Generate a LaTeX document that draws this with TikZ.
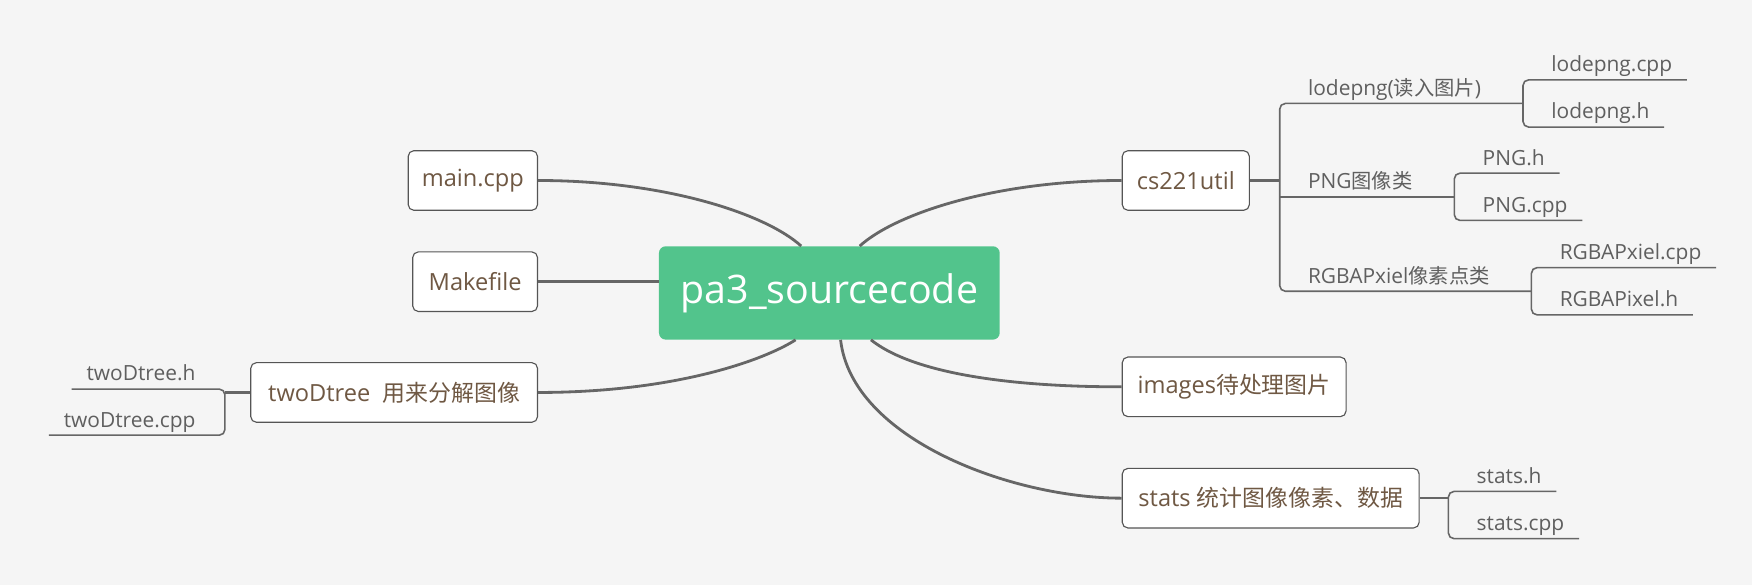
\documentclass[tikz,border=0pt]{standalone}
\usepackage{fontspec}
\setmainfont{Open Sans}
\newfontfamily\cjk[Scale=0.97]{Noto Sans CJK SC}
\usepackage{tikz}
\usetikzlibrary{calc}
\definecolor{bgc}{HTML}{F5F5F5}
\definecolor{rootc}{HTML}{52C48C}
\definecolor{topicc}{HTML}{6F5843}
\definecolor{boxc}{HTML}{555555}
\definecolor{linec}{HTML}{666666}
\definecolor{leafc}{HTML}{5F5F5F}

\begin{document}
\begin{tikzpicture}[x=1pt,y=-1pt,
    topic/.style={draw=boxc, fill=white, rounded corners=5pt, line width=1pt,
      text=topicc, font=\fontsize{21}{25}\selectfont, minimum height=53pt, inner sep=0pt},
    leaf/.style={anchor=south west, text=leafc, font=\fontsize{18.6}{22}\selectfont,
      inner xsep=13pt, inner ysep=0pt, text depth=7pt},
    branch/.style={line width=2.5pt, linec},
    twig/.style={line width=1.4pt, linec, rounded corners=5pt}
  ]
        \pgfmathsetmacro{\dy}{21}
        \pgfmathsetmacro{\dx}{12}
        \fill[bgc] (0,0) rectangle (1558,520.2);
        \useasboundingbox (0,0) rectangle (1558,520.2);
        \node (root) at (737.5,260.5) [fill=rootc, rounded corners=6pt, minimum width=303pt,
          minimum height=83pt, text=white, font=\fontsize{35}{42}\selectfont] {pa3\_sourcecode};
        \node (main) at (420.5,160.5) [topic, minimum width=115pt] {main.cpp};
        \node (make) at (422.5,250.5) [topic, minimum width=111pt] {Makefile};
        \node (twod) at (350.5,349) [topic, minimum width=255pt] {twoDtree\ \ {\cjk 用来分解图像}};
        \node (util) at (1054.5,160.5) [topic, minimum width=113pt] {cs221util};
        \node (imgs) at (1097.5,344) [topic, minimum width=199pt] {images{\cjk 待处理图片}};
        \node (stat) at (1130,443) [topic, minimum width=264pt] {stats {\cjk 统计图像像素、数据}};
        \coordinate (rMain) at ($ (root.north) + (-25,0) $);
        \coordinate (rUtil) at ($ (root.north) + (27,0) $);
        \coordinate (rTwod) at ($ (root.south) + (-30,0) $);
        \coordinate (rStat) at ($ (root.south) + (10,0) $);
        \coordinate (rImgs) at ($ (root.south) + (37,0) $);
        \draw[branch] (main.east) .. controls +(112,0) and +(-32,-29) .. (rMain);
        \draw[branch] (util.west) .. controls +(-112,0) and +(32,-29) .. (rUtil);
        \draw[branch] (make.east) -- (make.east -| root.west);
        \draw[branch] (twod.east) .. controls +(122,0) and +(-28,18) .. (rTwod);
        \draw[branch] (imgs.west) .. controls +(-108,0) and +(35,28) .. (rImgs);
        \draw[branch] (stat.west) .. controls +(-98,0) and +(10,88) .. (rStat);
        \coordinate (utilB) at (1138,175);
        \node (lode) at (1150,92) [leaf] {lodepng({\cjk 读入图片})};
        \node (pngc) at (1150,175) [leaf] {PNG{\cjk 图像类}};
        \node (rgba) at (1150,259) [leaf] {RGBAPxiel{\cjk 像素点类}};
        \coordinate (lodeJ) at ($ (lode.south east) + (24,0) $);
        \coordinate (pngcJ) at ($ (pngc.south east) + (24,0) $);
        \coordinate (rgbaJ) at ($ (rgba.south east) + (24,0) $);
        \draw[line width=2pt, linec] (util.east) -- (util.east -| utilB);
        \draw[twig] (lodeJ) -| (utilB) |- (rgbaJ);
        \draw[twig] (utilB) -- (pngcJ);
        \node (lodecpp) at ($ (lodeJ) + (\dx,-\dy) $) [leaf] {lodepng.cpp};
        \node (lodeh) at ($ (lodeJ) + (\dx,\dy) $) [leaf] {lodepng.h};
        \node (pngh) at ($ (pngcJ) + (\dx,-\dy) $) [leaf] {PNG.h};
        \node (pngcpp) at ($ (pngcJ) + (\dx,\dy) $) [leaf] {PNG.cpp};
        \node (rgbacpp) at ($ (rgbaJ) + (\dx,-\dy) $) [leaf] {RGBAPxiel.cpp};
        \node (rgbah) at ($ (rgbaJ) + (\dx,\dy) $) [leaf] {RGBAPixel.h};
        \draw[twig] (lodecpp.south east) -| (lodeJ) |- (lodeh.south east);
        \draw[twig] (pngh.south east) -| (pngcJ) |- (pngcpp.south east);
        \draw[twig] (rgbacpp.south east) -| (rgbaJ) |- (rgbah.south east);
        \coordinate (twodB) at (200,366.5);
        \node (twodh) at ($ (twodB) + (-13,-20.5) $) [leaf, anchor=south east] {twoDtree.h};
        \node (twodcpp) at ($ (twodB) + (-13,20.5) $) [leaf, anchor=south east] {twoDtree.cpp};
        \draw[twig] (twodh.south west) -| (twodB) |- (twodcpp.south west);
        \draw[line width=2pt, linec] (twod.west) -- (twod.west -| twodB);
        \coordinate (statB) at (1288,458);
        \node (stath) at ($ (statB) + (\dx,-\dy) $) [leaf] {stats.h};
        \node (statcpp) at ($ (statB) + (\dx,\dy) $) [leaf] {stats.cpp};
        \draw[twig] (stath.south east) -| (statB) |- (statcpp.south east);
        \draw[line width=2pt, linec] (stat.east) -- (stat.east -| statB);
\end{tikzpicture}
\end{document}
